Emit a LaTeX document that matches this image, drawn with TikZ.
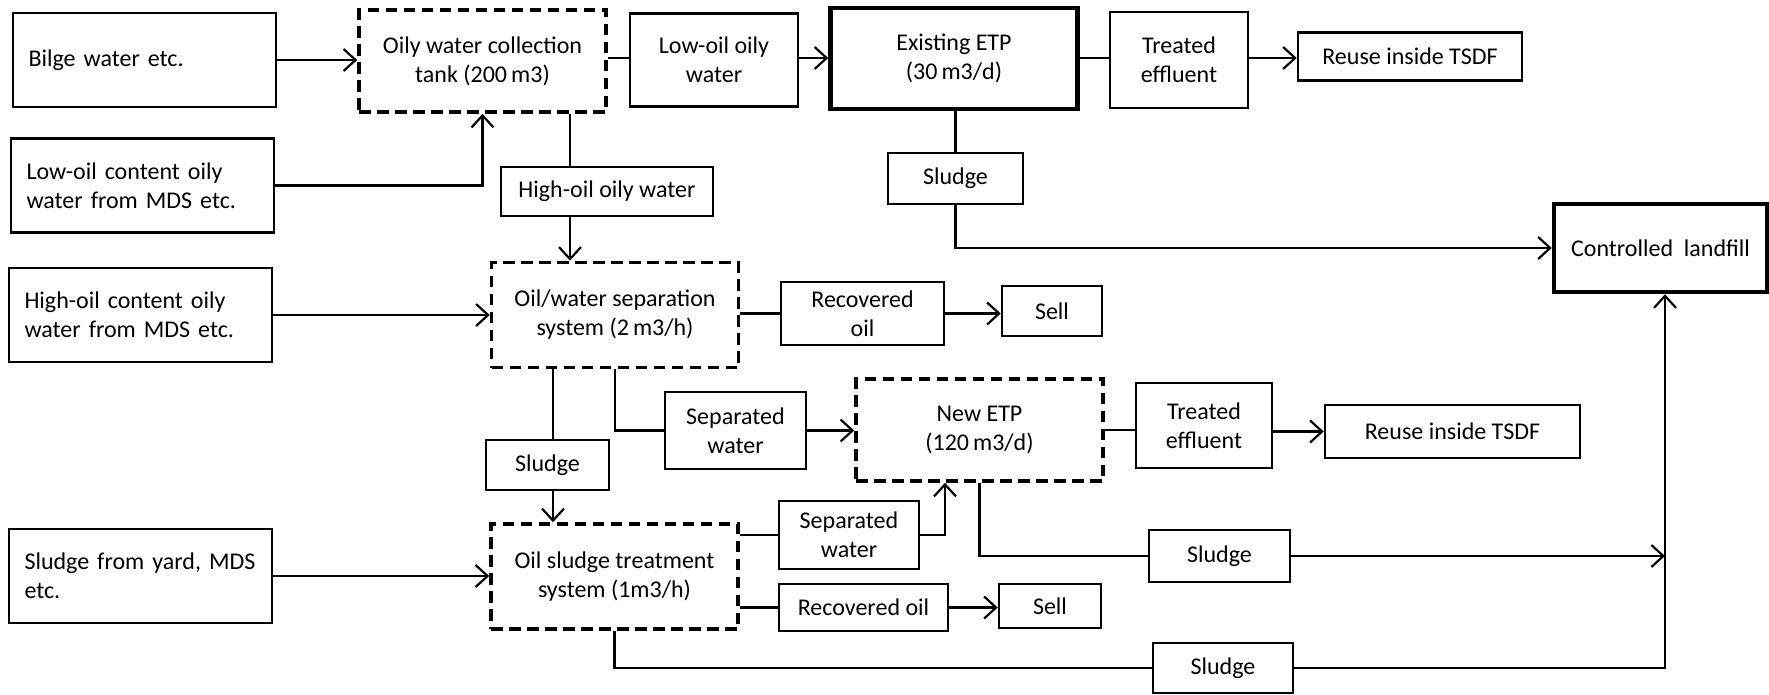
\documentclass[tikz,border=0pt]{standalone}
\usepackage{fontspec}
\setmainfont{Carlito}
\usetikzlibrary{arrows.meta}
\begin{document}
\begin{tikzpicture}[x=1pt,y=-1pt,
  every node/.style={font=\fontsize{24}{29}\selectfont},
  box/.style={draw, line width=2.5pt, inner sep=0pt, align=center},
  srcbox/.style={box, align=left, text width=232pt, inner xsep=15.5pt, inner ysep=0pt, minimum height=94pt},
  dbox/.style={draw, line width=3.6pt, dash pattern=on 11.5pt off 6.5pt, inner sep=0pt, align=center},
  thickbox/.style={box, line width=4.5pt},
  flow/.style={line width=2.2pt},
  arr/.style={flow, -{Straight Barb[length=12pt,width=22pt]}},
]
\useasboundingbox (0,0) rectangle (1769,694);

% ---- sources (left column)
\node[srcbox] (bilge) at (144.5,60) {Bilge water etc.};
\node[srcbox] (lowc)  at (142.5,185.5) {Low-oil content oily\\water from MDS etc.};
\node[srcbox] (highc) at (140.5,315) {High-oil content oily\\water from MDS etc.};
\node[srcbox] (yard)  at (140.5,576) {Sludge from yard, MDS\\etc.};

% ---- treatment units
\node[dbox, minimum width=247pt, minimum height=102pt] (tank) at (482.5,61) {Oily water collection\\tank (200\,m3)};
\node[dbox, minimum width=247pt, minimum height=105pt] (sep) at (615,315) {Oil/water separation\\system (2\,m3/h)};
\node[dbox, minimum width=247pt, minimum height=105pt] (oilsl) at (614.5,576.5) {Oil sludge treatment\\system (1m3/h)};
\node[dbox, minimum width=247pt, minimum height=102pt] (newetp) at (979.5,430) {New ETP\\(120\,m3/d)};
\node[thickbox, minimum width=247pt, minimum height=101pt] (etp) at (954,58.5) {Existing ETP\\(30\,m3/d)};
\node[thickbox, minimum width=213pt, minimum height=88pt] (landfill) at (1660.5,248) {Controlled~~landfill};

% ---- intermediate streams and outlets
\node[box, minimum width=168pt, minimum height=93pt] (loww) at (714,60) {Low-oil oily\\water};
\node[box, minimum width=138pt, minimum height=96pt] (treat1) at (1179,60) {Treated\\effluent};
\node[box, minimum width=224pt, minimum height=48pt] (reuse1) at (1410,56.5) {Reuse inside TSDF};
\node[box, minimum width=212pt, minimum height=49pt] (highw) at (607,191.5) {High-oil oily water};
\node[box, minimum width=135pt, minimum height=51pt] (sludge1) at (955.5,178.5) {Sludge};
\node[box, minimum width=163pt, minimum height=63pt] (rec1) at (862.5,313.5) {Recovered\\oil};
\node[box, minimum width=100pt, minimum height=50pt] (sell1) at (1052,311) {Sell};
\node[box, minimum width=141pt, minimum height=77pt] (sepw1) at (735.5,430.5) {Separated\\water};
\node[box, minimum width=136pt, minimum height=85pt] (treat2) at (1204,425.5) {Treated\\effluent};
\node[box, minimum width=255pt, minimum height=53pt] (reuse2) at (1452.5,431.5) {Reuse inside TSDF};
\node[box, minimum width=123pt, minimum height=50pt] (sludge2) at (547.5,465) {Sludge};
\node[box, minimum width=140pt, minimum height=68pt] (sepw2) at (849,535) {Separated\\water};
\node[box, minimum width=169pt, minimum height=47pt] (rec2) at (863.5,607.5) {Recovered oil};
\node[box, minimum width=102pt, minimum height=44pt] (sell2) at (1050,606) {Sell};
\node[box, minimum width=141pt, minimum height=52pt] (sludge3) at (1219.5,556) {Sludge};
\node[box, minimum width=140pt, minimum height=50pt] (sludge4) at (1223,668) {Sludge};

% ---- routing guides
\coordinate (r1) at (0,58);
\coordinate (v1) at (570,0);
\coordinate (v2) at (553,0);
\coordinate (v3) at (945,0);
\coordinate (v4) at (1665,0);

% ---- top line
\draw[arr] (bilge.east) -- (bilge.east -| tank.west);
\draw[arr] (lowc.east) -| (tank.south);
\draw[flow] (tank.east |- r1) -- (loww.west |- r1);
\draw[arr] (loww.east |- r1) -- (etp.west |- r1);
\draw[flow] (etp.east |- r1) -- (treat1.west |- r1);
\draw[arr] (treat1.east |- r1) -- (reuse1.west |- r1);
\draw[flow] (sludge1.north |- etp.south) -- (sludge1.north);
\draw[arr] (sludge1.south) |- (landfill.west);

% ---- high-oil stream
\draw[flow] (tank.south -| v1) -- (highw.north -| v1);
\draw[arr] (highw.south -| v1) -- (sep.north -| v1);
\draw[arr] (highc.east) -- (highc.east -| sep.west);
\draw[flow] (sep.east |- rec1) -- (rec1.west);
\draw[arr] (rec1.east) -- (rec1.east -| sell1.west);
\draw[flow] (sep.south) |- (sepw1.west);
\draw[arr] (sepw1.east) -- (sepw1.east -| newetp.west);
\draw[flow] (newetp.east) -- (newetp.east -| treat2.west);
\draw[arr] (treat2.east |- reuse2) -- (reuse2.west);
\draw[flow] (sep.south -| v2) -- (sludge2.north -| v2);
\draw[arr] (sludge2.south -| v2) -- (oilsl.north -| v2);

% ---- sludge stream
\draw[arr] (yard.east) -- (yard.east -| oilsl.west);
\draw[flow] (oilsl.east |- sepw2) -- (sepw2.west);
\draw[arr] (sepw2.east) -| (newetp.south -| v3);
\draw[flow] (oilsl.east |- rec2) -- (rec2.west);
\draw[arr] (rec2.east) -- (rec2.east -| sell2.west);
\draw[flow] (newetp.south) |- (sludge3.west);
\draw[arr] (sludge3.east) -- (sludge3.east -| v4);
\draw[flow] (oilsl.south) |- (sludge4.west);
\draw[arr] (sludge4.east) -| (landfill.south -| v4);
\end{tikzpicture}
\end{document}
